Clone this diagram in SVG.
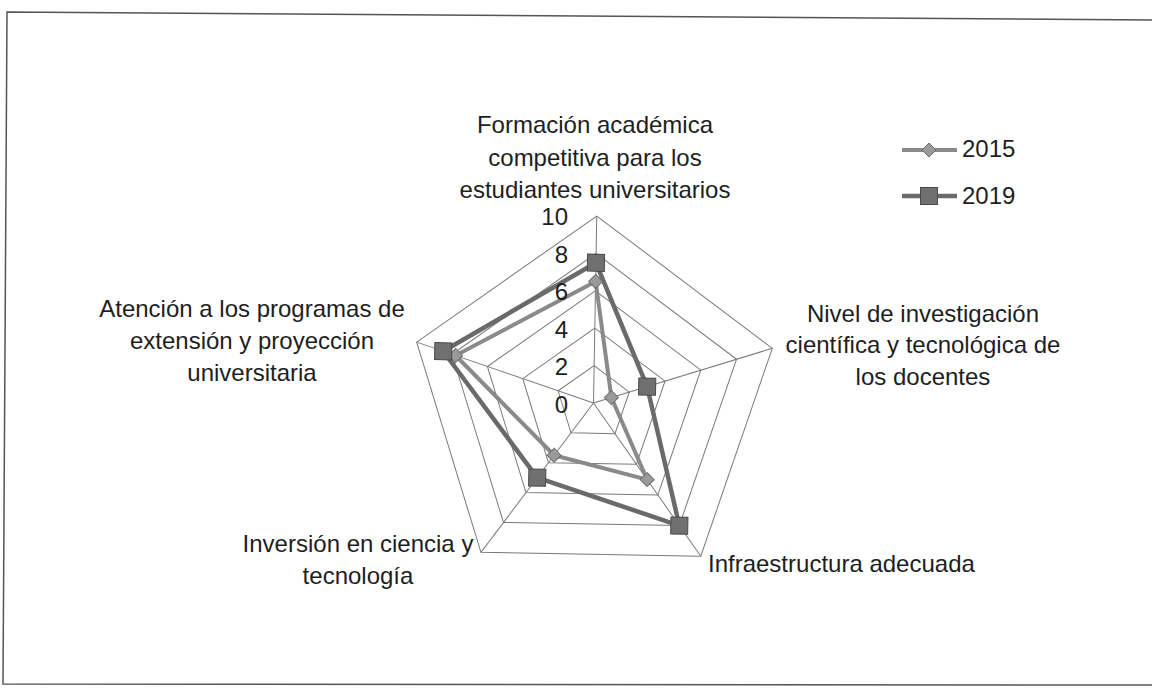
<svg xmlns="http://www.w3.org/2000/svg" width="1152" height="692" viewBox="0 0 1152 692">
  <style>
    text { font-family: "Liberation Sans", Arial, sans-serif; font-size: 24px; fill: #1e1e1e; }
    .lbl { text-anchor: middle; }
    .tick { text-anchor: end; }
    .grid { fill: none; stroke: #7a7a7a; stroke-width: 1; }
    .axis { stroke: #7a7a7a; stroke-width: 1; }
    .s2015 { fill: none; stroke: #8a8a8a; stroke-width: 4; stroke-linejoin: round; }
    .s2019 { fill: none; stroke: #6a6a6a; stroke-width: 4.5; stroke-linejoin: round; }
    .m2015 { fill: #9a9a9a; stroke: #707070; stroke-width: 1; }
    .m2019 { fill: #707070; stroke: #4a4a4a; stroke-width: 1; }
  </style>
  <defs>
    <rect id="sq" x="-8.5" y="-8.5" width="17" height="17"/>
    <polygon id="dm" points="0,-7 7,0 0,7 -7,0"/>
  </defs>
  <rect x="0" y="0" width="1152" height="692" fill="#ffffff"/>
  <polyline points="1152,20 7,12 3,684 1152,685" fill="none" stroke="#555555" stroke-width="1.5"/>

  <g id="chart" transform="rotate(1 593.5 403)">
    <g id="grid">
      <polygon class="grid" points="593.5,216 771.35,345.21 703.42,554.29 483.58,554.29 415.65,345.21"/>
      <polygon class="grid" points="593.5,253.4 735.78,356.77 681.43,524.03 505.57,524.03 451.22,356.77"/>
      <polygon class="grid" points="593.5,290.8 700.21,368.33 659.45,493.77 527.55,493.77 486.79,368.33"/>
      <polygon class="grid" points="593.5,328.2 664.64,379.89 637.47,463.51 549.53,463.51 522.36,379.89"/>
      <polygon class="grid" points="593.5,365.6 629.07,391.44 615.48,433.26 571.52,433.26 557.93,391.44"/>
      <line class="axis" x1="593.5" y1="403" x2="593.5" y2="216"/>
      <line class="axis" x1="593.5" y1="403" x2="771.35" y2="345.21"/>
      <line class="axis" x1="593.5" y1="403" x2="703.42" y2="554.29"/>
      <line class="axis" x1="593.5" y1="403" x2="483.58" y2="554.29"/>
      <line class="axis" x1="593.5" y1="403" x2="415.65" y2="345.21"/>
    </g>
    <g id="connectors">
      <polygon id="series-2015" class="s2015" points="593.5,281.45 611.28,397.22 648.46,478.64 555.03,455.95 454.78,357.93"/>
      <polygon id="series-2019" class="s2019" points="593.5,262.75 646.85,385.66 681.43,524.03 538.54,478.64 442.33,353.88"/>
    </g>
    <g id="markers-2015">
      <use href="#dm" class="m2015" x="593.5" y="281.45"/>
      <use href="#dm" class="m2015" x="611.28" y="397.22"/>
      <use href="#dm" class="m2015" x="648.46" y="478.64"/>
      <use href="#dm" class="m2015" x="555.03" y="455.95"/>
      <use href="#dm" class="m2015" x="454.78" y="357.93"/>
    </g>
    <g id="markers-2019">
      <use href="#sq" class="m2019" x="593.5" y="262.75"/>
      <use href="#sq" class="m2019" x="646.85" y="385.66"/>
      <use href="#sq" class="m2019" x="681.43" y="524.03"/>
      <use href="#sq" class="m2019" x="538.54" y="478.64"/>
      <use href="#sq" class="m2019" x="442.33" y="353.88"/>
    </g>
  </g>

  <g id="ticks">
    <text class="tick" x="568" y="225">10</text>
    <text class="tick" x="568" y="262.5">8</text>
    <text class="tick" x="568" y="300">6</text>
    <text class="tick" x="568" y="337.5">4</text>
    <text class="tick" x="568" y="375">2</text>
    <text class="tick" x="568" y="413">0</text>
  </g>

  <g id="label-formacion">
    <text class="lbl" x="595" y="133">Formación académica</text>
    <text class="lbl" x="595" y="166">competitiva para los</text>
    <text class="lbl" x="595" y="198">estudiantes universitarios</text>
  </g>
  <g id="label-nivel">
    <text class="lbl" x="923" y="322">Nivel de investigación</text>
    <text class="lbl" x="923" y="353">científica y tecnológica de</text>
    <text class="lbl" x="923" y="384.5">los docentes</text>
  </g>
  <g id="label-infraestructura">
    <text x="708" y="572">Infraestructura adecuada</text>
  </g>
  <g id="label-inversion">
    <text class="lbl" x="358" y="552">Inversión en ciencia y</text>
    <text class="lbl" x="358" y="583.5">tecnología</text>
  </g>
  <g id="label-atencion">
    <text class="lbl" x="252" y="317">Atención a los programas de</text>
    <text class="lbl" x="252" y="349">extensión y proyección</text>
    <text class="lbl" x="252" y="381">universitaria</text>
  </g>

  <g id="legend">
    <g id="legend-2015">
      <line x1="902" y1="150" x2="957" y2="150" class="s2015"/>
      <use href="#dm" class="m2015" x="929" y="150"/>
      <text x="962" y="157">2015</text>
    </g>
    <g id="legend-2019">
      <line x1="902" y1="196" x2="957" y2="196" class="s2019"/>
      <use href="#sq" class="m2019" x="929" y="196"/>
      <text x="962" y="204">2019</text>
    </g>
  </g>
</svg>
